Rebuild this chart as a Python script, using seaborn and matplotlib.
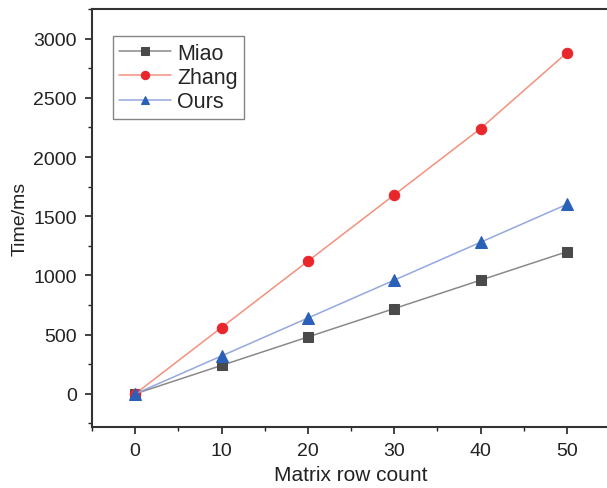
import numpy as np
import pandas as pd
import matplotlib
matplotlib.use("Agg")
import matplotlib.pyplot as plt
from matplotlib.ticker import MultipleLocator
import seaborn as sns

rows = [0, 10, 20, 30, 40, 50]
miao = [0, 240, 480, 720, 960, 1200]
zhang = [0, 560, 1120, 1680, 2240, 2880]
ours = [0, 320, 640, 960, 1280, 1600]

series = [
    ("Miao", miao, "s", 7, "#4a4a4a", "#8a8a8a"),
    ("Zhang", zhang, "o", 7.5, "#e8262b", "#f4907e"),
    ("Ours", ours, "^", 8, "#2a60b8", "#94a8e0"),
]

sns.set_theme(style="ticks")
plt.rcParams["font.family"] = ["Liberation Sans", "DejaVu Sans"]

fig = plt.figure(figsize=(6.07, 4.89), dpi=100)
# right spine falls just outside the picture, as in the reference crop
ax = fig.add_axes([92 / 607, 1 - 428 / 489, 518 / 607, 418 / 489])

for name, vals, mk, ms, mc, lc in series:
    df = pd.DataFrame({"x": rows, "y": vals})
    sns.lineplot(data=df, x="x", y="y", ax=ax, color=lc, lw=1.1,
                 marker=mk, markersize=ms, markerfacecolor=mc,
                 markeredgecolor=mc, label=name)

ax.set_xlim(-5, 55)
ax.set_ylim(-280, 3250)
ax.set_xticks([0, 10, 20, 30, 40, 50])
ax.set_yticks([0, 500, 1000, 1500, 2000, 2500, 3000])
ax.xaxis.set_minor_locator(MultipleLocator(5))
ax.yaxis.set_minor_locator(MultipleLocator(250))
ax.tick_params(which="major", direction="out", length=5, width=1.2,
               labelsize=14, colors="#222222", pad=6)
ax.tick_params(which="minor", direction="out", length=3, width=1.0, color="#222222")
ax.tick_params(top=False, right=False)
for s in ax.spines.values():
    s.set_linewidth(1.5)
    s.set_color("#333333")
    s.set_visible(True)

ax.set_xlabel("Matrix row count", fontsize=15, color="#222222", labelpad=4)
ax.set_ylabel("Time/ms", fontsize=14, color="#222222", labelpad=3)

leg = ax.legend(loc="upper left", bbox_to_anchor=(0.04, 0.935), fontsize=15.5,
                frameon=True, fancybox=False, handlelength=2.4, markerscale=0.8,
                handletextpad=0.3, borderpad=0.3, labelspacing=0.15,
                borderaxespad=0)
leg.get_frame().set_edgecolor("#666666")
leg.get_frame().set_linewidth(1.0)

fig.savefig("out.png", dpi=100)
